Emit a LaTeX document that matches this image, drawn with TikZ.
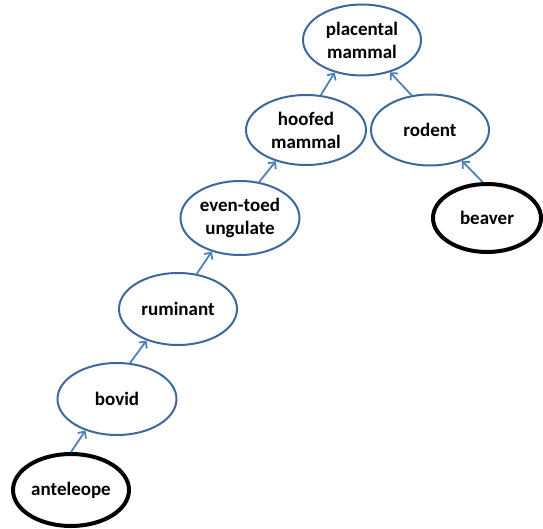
\documentclass[tikz,border=0pt]{standalone}
\usepackage{fontspec}
\setmainfont{Carlito}
\usetikzlibrary{shapes.geometric,arrows.meta}
\definecolor{ebord}{RGB}{62,104,156}
\definecolor{arr}{RGB}{79,129,189}
\tikzset{
  cls/.style={ellipse, draw=ebord, line width=2pt, inner sep=0pt, align=center,
    font=\fontsize{19}{23}\selectfont\bfseries, text=black},
  leaf/.style={cls, draw=black, line width=4pt},
  isa/.style={draw=arr, line width=1.8pt, -{Straight Barb[length=5pt,width=10pt]}}
}
\begin{document}
\begin{tikzpicture}[x=1pt,y=-1pt]
\useasboundingbox (0,0) rectangle (543,529);
\node[cls, minimum width=118pt, minimum height=71pt] (pm) at (362,40) {placental\\mammal};
\node[cls, minimum width=120pt, minimum height=70pt] (hm) at (306,130) {hoofed\\mammal};
\node[cls, minimum width=118pt, minimum height=71pt] (ro) at (430,130) {rodent};
\node[leaf, minimum width=108pt, minimum height=68pt] (be) at (487,218) {beaver};
\node[cls, minimum width=119pt, minimum height=74pt] (ev) at (240,218) {even-toed\\ungulate};
\node[cls, minimum width=118pt, minimum height=72pt] (ru) at (178,309) {ruminant};
\node[cls, minimum width=119pt, minimum height=72pt] (bo) at (117,399) {bovid};
\node[leaf, minimum width=116pt, minimum height=72pt] (an) at (71,490) {anteleope};
\draw[isa] (an.90) -- (bo.225);
\draw[isa] (bo.70) -- (ru.225);
\draw[isa] (ru.62) -- (ev.230);
\draw[isa] (ev.62) -- (hm.226);
\draw[isa] (hm.67) -- (pm.230);
\draw[isa] (ro.118) -- (pm.311);
\draw[isa] (be.97) -- (ro.316);
\end{tikzpicture}
\end{document}
